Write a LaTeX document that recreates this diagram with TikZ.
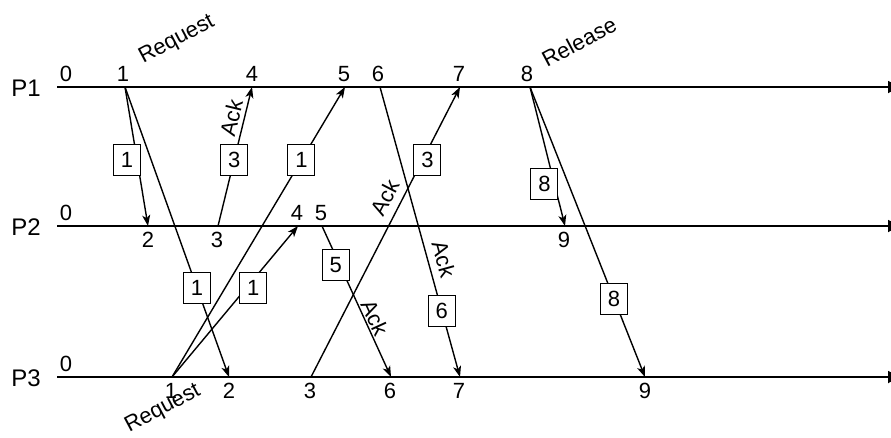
\documentclass[tikz,border=0pt]{standalone}
\usepackage{fontspec}
\setmainfont{Liberation Sans}
\usetikzlibrary{arrows.meta}
\usetikzlibrary{calc}

\begin{document}
\begin{tikzpicture}[x=1pt,y=-1pt,
  timeline/.style={line width=1.8pt,-{Triangle[length=12pt,width=12pt]}},
  msg/.style={line width=1.4pt,-{Stealth[length=11pt,width=8pt,inset=3pt]}},
  msgbox/.style={draw,fill=white,line width=1pt,minimum width=27pt,minimum height=31pt,inner sep=0pt,font=\fontsize{22}{26}\selectfont},
  evlabel/.style={font=\fontsize{22}{26}\selectfont,inner sep=1pt},
  proclabel/.style={font=\fontsize{24}{28}\selectfont},
  ack/.style={sloped,font=\fontsize{22}{26}\selectfont,inner sep=1pt},
  note/.style={rotate=28,font=\fontsize{22}{26}\selectfont}]
\useasboundingbox (0,0) rectangle (891,437);

% Processes
\node[proclabel] (P1) at (26,88) {P1};
\node[proclabel] (P2) at (26,227) {P2};
\node[proclabel] (P3) at (26,378) {P3};
\coordinate (p1s) at (57,87);  \coordinate (p1t) at (900,87);
\coordinate (p2s) at (57,226); \coordinate (p2t) at (900,226);
\coordinate (p3s) at (57,377); \coordinate (p3t) at (900,377);
\draw[timeline] (p1s) -- (p1t);
\draw[timeline] (p2s) -- (p2t);
\draw[timeline] (p3s) -- (p3t);

% Events
\coordinate (p1c1) at (125,87);
\coordinate (p1c4) at (252,87);
\coordinate (p1c5) at (345,87);
\coordinate (p1c6) at (380,87);
\coordinate (p1c7) at (460,87);
\coordinate (p1c8) at (530,87);
\coordinate (p2c2) at (148,226);
\coordinate (p2c3) at (218,226);
\coordinate (p2c4) at (298,226);
\coordinate (p2c5) at (322,226);
\coordinate (p2c9) at (565,226);
\coordinate (p3c1) at (172,377);
\coordinate (p3c2) at (229,377);
\coordinate (p3c3) at (311,377);
\coordinate (p3c6) at (391,377);
\coordinate (p3c7) at (460,377);
\coordinate (p3c9) at (645,377);

% Clock values
\node[evlabel,above=4pt] (t10) at (66,87) {0};
\node[evlabel,above=4pt] (t11) at ($(p1c1)+(-2,0)$) {1};
\node[evlabel,above=4pt] (t14) at (p1c4) {4};
\node[evlabel,above=4pt] (t15) at ($(p1c5)+(-1,0)$) {5};
\node[evlabel,above=4pt] (t16) at ($(p1c6)+(-2,0)$) {6};
\node[evlabel,above=4pt] (t17) at ($(p1c7)+(-1,0)$) {7};
\node[evlabel,above=4pt] (t18) at ($(p1c8)+(-3,0)$) {8};
\node[evlabel,above=4pt] (t20) at (66,226) {0};
\node[evlabel,below=5pt] (t22) at (p2c2) {2};
\node[evlabel,below=5pt] (t23) at ($(p2c3)+(-1,0)$) {3};
\node[evlabel,above=4pt] (t24) at ($(p2c4)+(-1,0)$) {4};
\node[evlabel,above=4pt] (t25) at ($(p2c5)+(-1,0)$) {5};
\node[evlabel,below=5pt] (t29) at ($(p2c9)+(-1,0)$) {9};
\node[evlabel,above=4pt] (t30) at (66,377) {0};
\node[evlabel,below=5pt] (t31) at ($(p3c1)+(-1,0)$) {1};
\node[evlabel,below=5pt] (t32) at (p3c2) {2};
\node[evlabel,below=5pt] (t33) at ($(p3c3)+(-1,0)$) {3};
\node[evlabel,below=5pt] (t36) at ($(p3c6)+(-1,0)$) {6};
\node[evlabel,below=5pt] (t37) at ($(p3c7)+(-1,0)$) {7};
\node[evlabel,below=5pt] (t39) at (p3c9) {9};

% Notes
\node[note] (req1) at (177,40) {Request};
\node[note] (req3) at (163,409) {Request};
\node[note] (rel1) at (579,42) {Release};

% Messages
\draw[msg] (p1c1) -- node[msgbox,pos=0.525,xshift=-10pt] (m1) {1} (p2c2);
\draw[msg] (p1c1) -- node[msgbox,pos=0.693] (m2) {1} (p3c2);
\draw[msg] (p2c3) -- node[ack,above=3pt,pos=0.755] (a1) {Ack}
  node[msgbox,pos=0.475] (m3) {3} (p1c4);
\draw[msg] (p3c1) -- node[msgbox,pos=0.748] (m4) {1} (p1c5);
\draw[msg] (p3c1) -- node[msgbox,pos=0.589,xshift=7pt] (m5) {1} (p2c4);
\draw[msg] (p2c5) -- node[ack,above=0pt,pos=0.636] (a2) {Ack}
  node[msgbox,pos=0.258,xshift=-4pt] (m6) {5} (p3c6);
\draw[msg] (p3c3) -- node[ack,above=6pt,pos=0.593] (a3) {Ack}
  node[msgbox,pos=0.748,xshift=5pt] (m7) {3} (p1c7);
\draw[msg] (p1c6) -- node[ack,above=6pt,pos=0.607] (a4) {Ack}
  node[msgbox,pos=0.772] (m8) {6} (p3c7);
\draw[msg] (p1c8) -- node[msgbox,pos=0.698,xshift=-10pt] (m9) {8} (p2c9);
\draw[msg] (p1c8) -- node[msgbox,pos=0.731] (m10) {8} (p3c9);
\end{tikzpicture}
\end{document}
